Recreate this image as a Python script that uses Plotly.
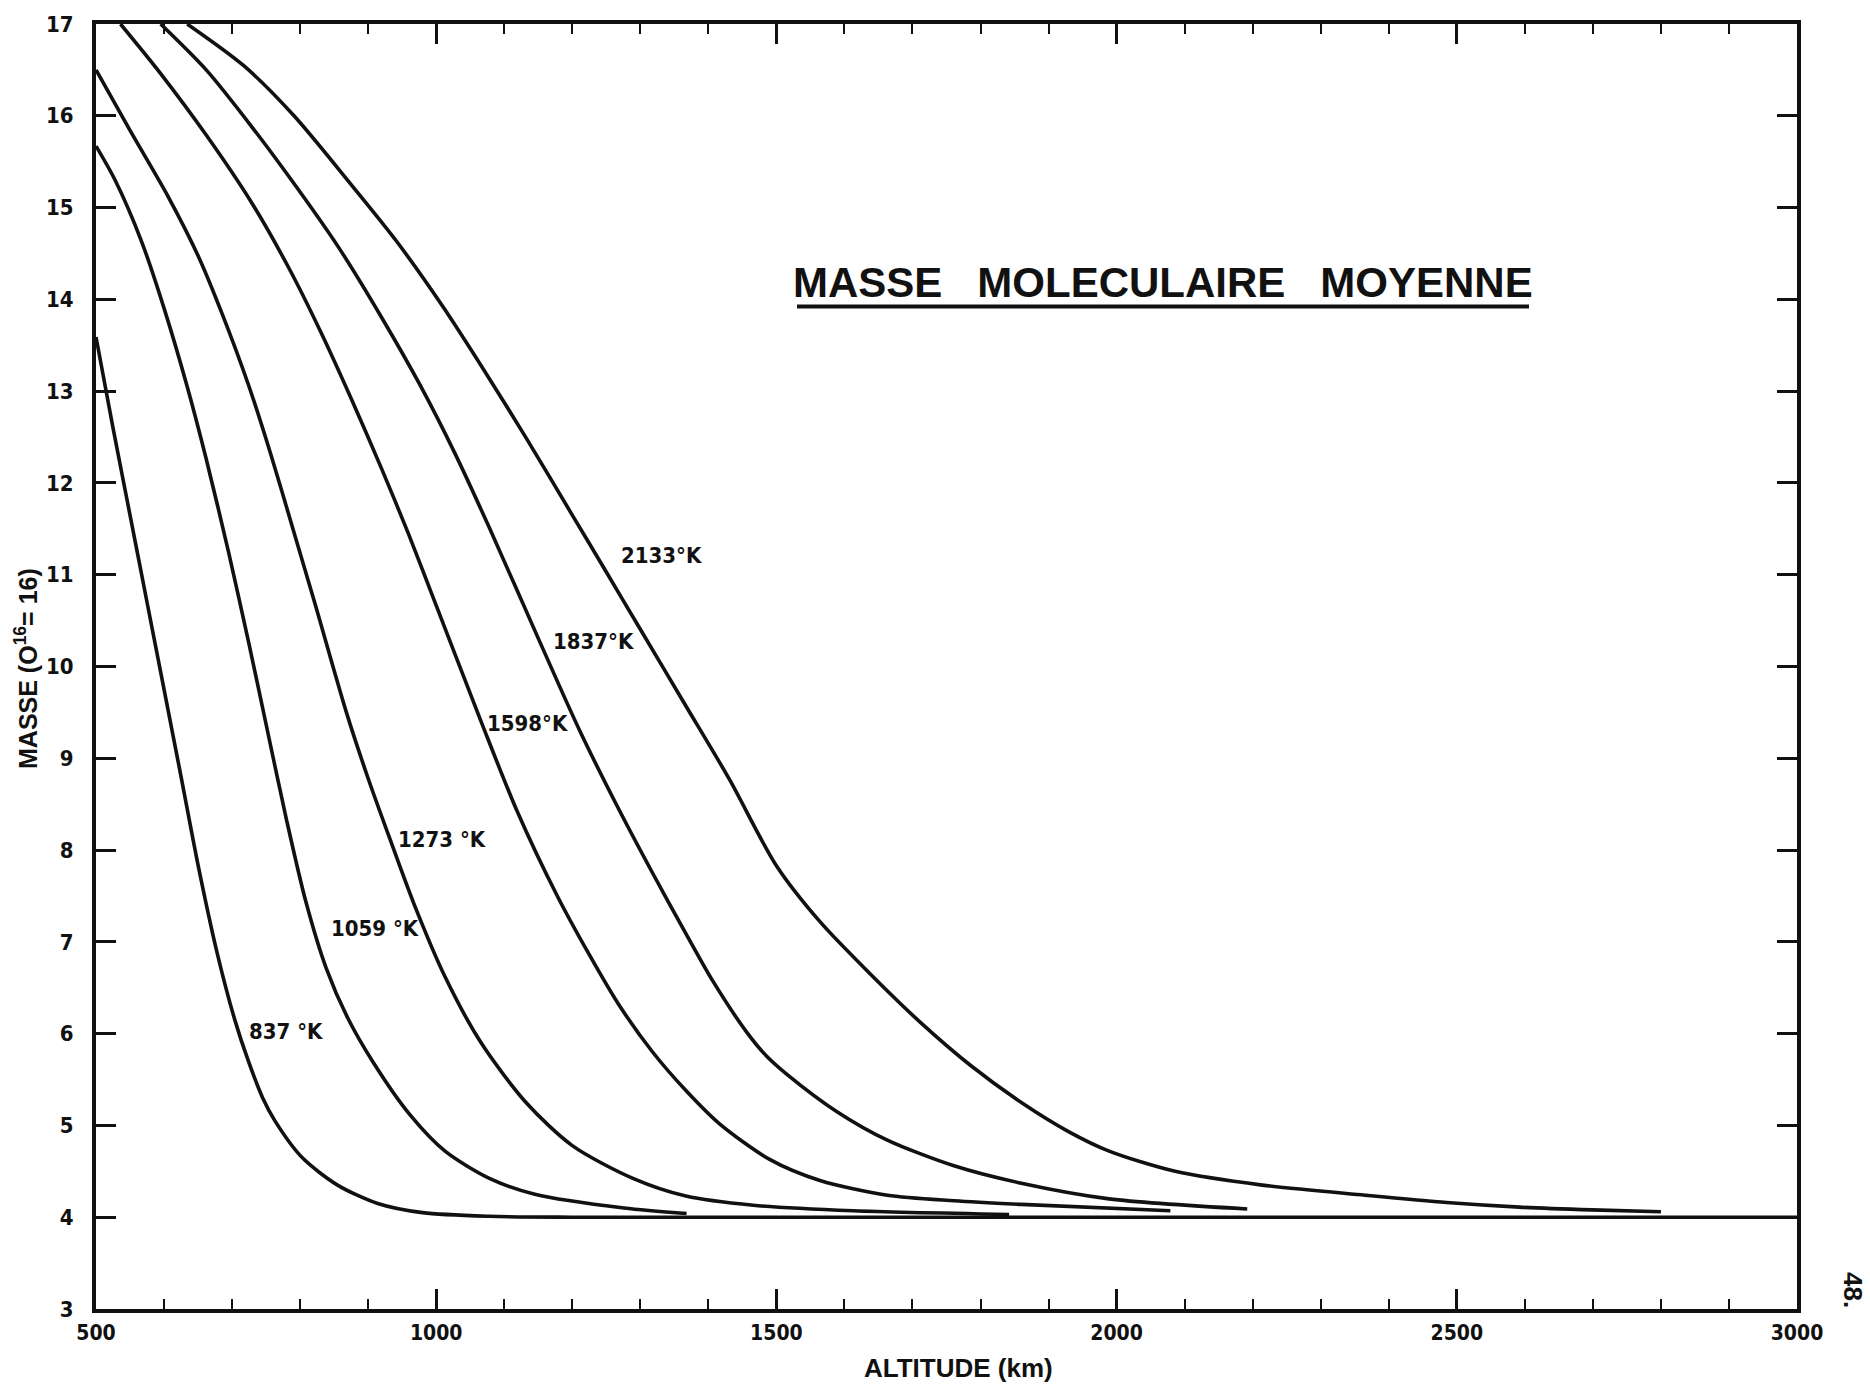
import plotly.graph_objects as go

# ---- data (altitude km, mean molecular mass) ----
alt_837 = [500, 525, 550, 575, 600, 625, 651, 678, 704, 724, 745, 763, 803, 855, 914, 980, 1079, 1200, 3000]
mass_837 = [13.59, 12.6, 11.65, 10.7, 9.75, 8.8, 7.8, 6.88, 6.15, 5.70, 5.3, 5.05, 4.65, 4.35, 4.15, 4.05, 4.01, 4.0, 4.0]

alt_1059 = [500, 528, 567, 601, 634, 662, 695, 725, 752, 780, 808, 838, 870, 908, 961, 1013, 1079, 1145, 1276, 1368]
mass_1059 = [15.67, 15.30, 14.63, 13.88, 13.05, 12.26, 11.24, 10.24, 9.30, 8.33, 7.45, 6.72, 6.17, 5.68, 5.12, 4.72, 4.42, 4.25, 4.10, 4.04]

alt_1273 = [500, 550, 606, 651, 685, 724, 757, 791, 822, 868, 900, 934, 967, 1013, 1066, 1132, 1200, 1290, 1367, 1466, 1613, 1842]
mass_1273 = [16.5, 15.84, 15.12, 14.46, 13.85, 13.07, 12.31, 11.46, 10.68, 9.50, 8.78, 8.08, 7.42, 6.62, 5.90, 5.25, 4.78, 4.42, 4.23, 4.13, 4.07, 4.03]

alt_1598 = [536, 595, 662, 729, 785, 830, 875, 920, 959, 993, 1066, 1118, 1178, 1225, 1268, 1318, 1367, 1416, 1490, 1564, 1663, 1761, 1860, 2079]
mass_1598 = [17.0, 16.46, 15.79, 15.05, 14.32, 13.65, 12.92, 12.15, 11.45, 10.80, 9.40, 8.44, 7.50, 6.86, 6.32, 5.80, 5.38, 5.02, 4.63, 4.40, 4.24, 4.18, 4.14, 4.07]

alt_1837 = [595, 662, 729, 796, 858, 920, 976, 1027, 1077, 1151, 1211, 1268, 1318, 1367, 1406, 1456, 1485, 1515, 1589, 1663, 1761, 1860, 1989, 2192]
mass_1837 = [17.0, 16.5, 15.88, 15.21, 14.55, 13.80, 13.07, 12.33, 11.53, 10.29, 9.30, 8.45, 7.75, 7.09, 6.58, 6.02, 5.76, 5.56, 5.15, 4.84, 4.56, 4.37, 4.20, 4.09]

alt_2133 = [634, 718, 791, 875, 942, 1009, 1071, 1133, 1200, 1250, 1298, 1367, 1431, 1500, 1564, 1638, 1712, 1786, 1860, 1930, 1989, 2086, 2214, 2365, 2485, 2592, 2699, 2800]
mass_2133 = [17.0, 16.54, 16.0, 15.25, 14.63, 13.93, 13.22, 12.48, 11.65, 11.03, 10.43, 9.57, 8.77, 7.83, 7.22, 6.65, 6.12, 5.65, 5.25, 4.93, 4.72, 4.50, 4.35, 4.24, 4.16, 4.11, 4.08, 4.06]

series = [
    ("837 °K", alt_837, mass_837),
    ("1059 °K", alt_1059, mass_1059),
    ("1273 °K", alt_1273, mass_1273),
    ("1598°K", alt_1598, mass_1598),
    ("1837°K", alt_1837, mass_1837),
    ("2133°K", alt_2133, mass_2133),
]

# label anchor positions (left edge, vertical middle) in data units
label_alt = [722, 842, 941, 1072, 1168, 1269]
label_mass = [6.02, 7.15, 8.12, 9.38, 10.27, 11.21]

x_major = [500, 1000, 1500, 2000, 2500, 3000]
y_ticks = list(range(3, 18))

TITLE = "MASSE\u00a0\u00a0 MOLECULAIRE\u00a0\u00a0 MOYENNE"
XTITLE = "ALTITUDE (km)"
YTITLE = "MASSE (O<sup>16</sup>= 16)"

INK = "#111111"
NARROW = "Liberation Sans Narrow, DejaVu Sans Condensed, Arial Narrow, sans-serif"
REG = "Liberation Sans, Arial, sans-serif"

fig = go.Figure()
for name, xs, ys in series:
    fig.add_trace(go.Scatter(x=xs, y=ys, mode="lines", name=name,
                             line=dict(color=INK, width=3.6, shape="spline", smoothing=0.8),
                             hoverinfo="skip", showlegend=False))

for (name, _, _), lx, ly in zip(series, label_alt, label_mass):
    fig.add_annotation(x=lx, y=ly, xref="x", yref="y", text=name, showarrow=False,
                       xanchor="left", yanchor="middle",
                       font=dict(family=NARROW, size=22, color=INK, weight="bold"))

# title with underline
fig.add_annotation(x=0.627, y=0.799, xref="paper", yref="paper", text=TITLE,
                   showarrow=False, xanchor="center", yanchor="middle",
                   font=dict(family=REG, size=42, color=INK, weight="bold"))
fig.add_shape(type="line", xref="paper", yref="paper",
              x0=(797 - 96) / 1701, x1=(1529 - 96) / 1701,
              y0=(1309 - 305) / 1287, y1=(1309 - 305) / 1287,
              line=dict(color=INK, width=4))

# y axis title
fig.add_annotation(x=(26 - 96) / 1701, y=(1309 - 668) / 1287, xref="paper", yref="paper",
                   text=YTITLE, textangle=-90, showarrow=False,
                   xanchor="center", yanchor="middle",
                   font=dict(family=REG, size=25, color=INK, weight="bold"))
# x axis title
fig.add_annotation(x=(958 - 96) / 1701, y=(1309 - 1368) / 1287, xref="paper", yref="paper",
                   text=XTITLE, showarrow=False, xanchor="center", yanchor="middle",
                   font=dict(family=REG, size=26, color=INK, weight="bold"))
# page number
fig.add_annotation(x=(1853 - 96) / 1701, y=(1309 - 1290) / 1287, xref="paper", yref="paper",
                   text="48.", textangle=90, showarrow=False,
                   xanchor="center", yanchor="middle",
                   font=dict(family=REG, size=26, color=INK, weight="bold"))

fig.update_xaxes(range=[500, 3000], tickvals=x_major, ticktext=[str(v) for v in x_major],
                 ticks="inside", ticklen=20, tickwidth=2.5, tickcolor=INK,
                 minor=dict(dtick=100, tick0=500, ticks="inside", ticklen=10, tickwidth=2.2,
                            tickcolor=INK, showgrid=False),
                 showline=True, linewidth=4, linecolor=INK, mirror="ticks",
                 showgrid=False, zeroline=False, ticklabelstandoff=2,
                 tickfont=dict(family=NARROW, size=21, color=INK, weight="bold"))
fig.update_yaxes(range=[3, 17], tickvals=y_ticks, ticktext=[str(v) for v in y_ticks],
                 ticks="inside", ticklen=20, tickwidth=2.5, tickcolor=INK,
                 showline=True, linewidth=4, linecolor=INK, mirror="ticks",
                 showgrid=False, zeroline=False, ticklabelstandoff=14,
                 tickfont=dict(family=NARROW, size=22, color=INK, weight="bold"))

fig.update_layout(width=1870, height=1385, margin=dict(l=96, r=73, t=22, b=76),
                  paper_bgcolor="white", plot_bgcolor="white")

fig.write_html("out.html")
